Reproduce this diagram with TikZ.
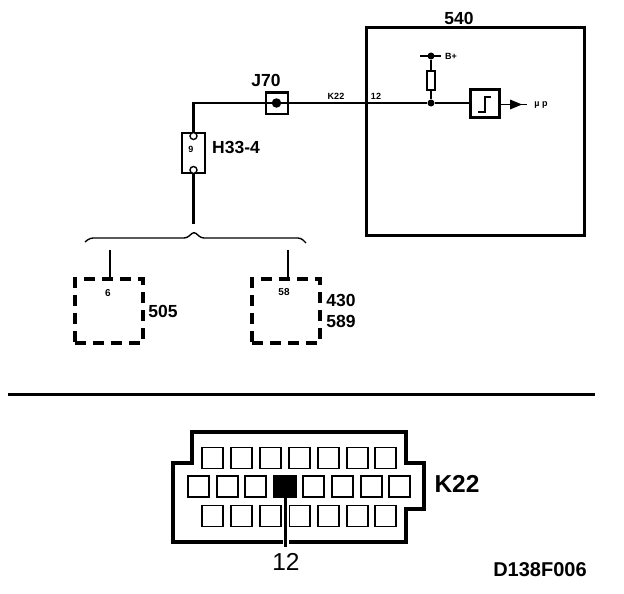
\documentclass[tikz,border=0pt]{standalone}
\usepackage{fontspec}
\setmainfont{Liberation Sans}
\usetikzlibrary{positioning}
\newlength{\basiscircuit}
\setlength{\basiscircuit}{1pt}
\tikzset{
    wire/.style={line width=2.6\basiscircuit},
    thinwire/.style={line width=2\basiscircuit},
    component/.style={draw,line width=2\basiscircuit,inner sep=0pt,outer sep=0pt},
    ecu/.style={draw,line width=3.2\basiscircuit,dash pattern=on 11\basiscircuit off 7\basiscircuit,inner sep=0pt,minimum width=68\basiscircuit,minimum height=64\basiscircuit},
    junction/.style={circle,fill,inner sep=0pt,minimum size=7\basiscircuit},
    pin/.style={circle,draw,fill=white,line width=1.4\basiscircuit,inner sep=0pt,minimum size=7\basiscircuit},
    cavity/.style={draw,line width=1.8\basiscircuit,inner sep=0pt,minimum width=21\basiscircuit,minimum height=21\basiscircuit},
    biglabel/.style={inner sep=0pt,font=\fontsize{17.5}{18}\selectfont\bfseries},
    smalllabel/.style={inner sep=0pt,font=\fontsize{9}{10}\selectfont\bfseries},
    hugelabel/.style={inner sep=0pt,font=\fontsize{24.5}{26}\selectfont},
}

\begin{document}
\begin{tikzpicture}
    \useasboundingbox (0,0) rectangle (624\basiscircuit,-594\basiscircuit);

    % control module
    \draw (475\basiscircuit,-131.5\basiscircuit) node[component,line width=3\basiscircuit,minimum width=218\basiscircuit,minimum height=207\basiscircuit] (module-540) {};
    \draw (459\basiscircuit,-18\basiscircuit) node[biglabel] (label-540) {540};

    \draw (276.5\basiscircuit,-103\basiscircuit) node[component,minimum width=22\basiscircuit,minimum height=21\basiscircuit] (J70) {};
    \draw (276.5\basiscircuit,-103\basiscircuit) node[junction,minimum size=9.5\basiscircuit] (J70-dot) {};
    \draw (266\basiscircuit,-80\basiscircuit) node[biglabel] (label-J70) {J70};

    \draw (193.5\basiscircuit,-153\basiscircuit) node[component,minimum width=23\basiscircuit,minimum height=40\basiscircuit] (H33-4) {};
    \draw (193.5\basiscircuit,-136\basiscircuit) node[pin] (H33-4-top) {};
    \draw (193.5\basiscircuit,-170\basiscircuit) node[pin] (H33-4-bottom) {};
    \draw (191\basiscircuit,-149\basiscircuit) node[smalllabel] (label-9) {9};
    \draw (236\basiscircuit,-147\basiscircuit) node[biglabel] (label-H33-4) {H33-4};

    \draw (431\basiscircuit,-103\basiscircuit) node[junction] (junction-low) {};
    \draw (431\basiscircuit,-56\basiscircuit) node[junction] (junction-high) {};
    \draw (431\basiscircuit,-80.5\basiscircuit) node[component,minimum width=8\basiscircuit,minimum height=19\basiscircuit] (resistor) {};
    \draw (485\basiscircuit,-103.5\basiscircuit) node[component,line width=3.4\basiscircuit,minimum width=29\basiscircuit,minimum height=28\basiscircuit] (trigger) {};

    \coordinate (port-12) at (366\basiscircuit,-103\basiscircuit);
    \coordinate (bplus-left) at (420\basiscircuit,-56\basiscircuit);
    \coordinate (bplus-right) at (441\basiscircuit,-56\basiscircuit);
    \coordinate (output-start) at (500\basiscircuit,-104.5\basiscircuit);
    \coordinate (output-end) at (527\basiscircuit,-104.5\basiscircuit);
    \coordinate (wire-corner) at (193.5\basiscircuit,-103\basiscircuit);
    \coordinate (wire-end) at (193.5\basiscircuit,-224\basiscircuit);

    \draw[wire] (J70-dot) -- (wire-corner) -- (H33-4-top);
    \draw[wire] (H33-4-bottom) -- (wire-end);
    \draw[wire] (J70-dot) -- (port-12);
    \draw[thinwire] (port-12) -- (junction-low) -- (junction-low -| trigger.west);
    \draw[wire] (junction-high) -- (resistor) -- (junction-low);
    \draw[thinwire] (bplus-left) -- (bplus-right);
    \draw[line width=1\basiscircuit] (output-start) -- (output-end);
    \fill (510\basiscircuit,-99.5\basiscircuit) -- (522\basiscircuit,-104.5\basiscircuit) -- (510\basiscircuit,-109.5\basiscircuit) -- cycle;
    \draw[line width=1.2\basiscircuit] (478\basiscircuit,-112\basiscircuit) -- (485\basiscircuit,-112\basiscircuit) -- (485\basiscircuit,-97\basiscircuit) -- (491\basiscircuit,-97\basiscircuit);

    \draw (336\basiscircuit,-96\basiscircuit) node[smalllabel] (label-K22-small) {K22};
    \draw (376\basiscircuit,-96\basiscircuit) node[smalllabel] (label-12-small) {12};
    \draw (451\basiscircuit,-56\basiscircuit) node[smalllabel] (label-B) {B+};
    \draw (541\basiscircuit,-105\basiscircuit) node[smalllabel] (label-mu) {µ p};

    % brace and the two modules below it
    \draw[line width=1.4\basiscircuit,rounded corners=3\basiscircuit] (85\basiscircuit,-242\basiscircuit) -- (90\basiscircuit,-238\basiscircuit) -- (187\basiscircuit,-238\basiscircuit) -- (194\basiscircuit,-231.5\basiscircuit) -- (201\basiscircuit,-238\basiscircuit) -- (301\basiscircuit,-238\basiscircuit) -- (306\basiscircuit,-243\basiscircuit);

    \draw (109\basiscircuit,-311\basiscircuit) node[ecu] (module-505) {};
    \draw (286\basiscircuit,-311\basiscircuit) node[ecu] (module-430) {};
    \coordinate (stub-505) at (110\basiscircuit,-250\basiscircuit);
    \coordinate (stub-430) at (288\basiscircuit,-250\basiscircuit);
    \draw[line width=1.2\basiscircuit] (stub-505) -- (stub-505 |- module-505.north);
    \draw[line width=1.2\basiscircuit] (stub-430) -- (stub-430 |- module-430.north);
    \draw (108\basiscircuit,-293\basiscircuit) node[smalllabel,font=\fontsize{10}{11}\selectfont\bfseries] (label-6) {6};
    \draw (284\basiscircuit,-292\basiscircuit) node[smalllabel,font=\fontsize{10}{11}\selectfont\bfseries] (label-58) {58};
    \draw (163\basiscircuit,-311\basiscircuit) node[biglabel] (label-505) {505};
    \draw (341\basiscircuit,-300\basiscircuit) node[biglabel] (label-430) {430};
    \draw (341\basiscircuit,-321\basiscircuit) node[biglabel] (label-589) {589};

    \coordinate (rule-left) at (8\basiscircuit,-394\basiscircuit);
    \coordinate (rule-right) at (595\basiscircuit,-394\basiscircuit);
    \draw[line width=3\basiscircuit] (rule-left) -- (rule-right);

    % connector K22
    \draw[line width=4\basiscircuit] (192\basiscircuit,-432\basiscircuit) -- (406\basiscircuit,-432\basiscircuit) -- (406\basiscircuit,-463\basiscircuit) -- (424\basiscircuit,-463\basiscircuit) -- (424\basiscircuit,-509\basiscircuit) -- (406\basiscircuit,-509\basiscircuit) -- (406\basiscircuit,-542\basiscircuit) -- (173\basiscircuit,-542\basiscircuit) -- (173\basiscircuit,-463\basiscircuit) -- (192\basiscircuit,-463\basiscircuit) -- cycle;
    \foreach \x [count=\n] in {202,231,260,289,318,347,375} {
        \draw (\x\basiscircuit+10.5\basiscircuit,-458\basiscircuit) node[cavity] (top-\n) {};
        \draw (\x\basiscircuit+10.5\basiscircuit,-516\basiscircuit) node[cavity] (bottom-\n) {};
    }
    \foreach \x [count=\n] in {188,217,245,274,303,332,361,389} {
        \draw (\x\basiscircuit+10.5\basiscircuit,-486.5\basiscircuit) node[cavity] (middle-\n) {};
    }
    \draw (285.5\basiscircuit,-486.5\basiscircuit) node[cavity,fill,minimum width=22\basiscircuit] (cavity-12) {};
    \coordinate (pointer-end) at (285.5\basiscircuit,-547\basiscircuit);
    \draw[white,line width=6\basiscircuit] (285.5\basiscircuit,-505\basiscircuit) -- (285.5\basiscircuit,-544\basiscircuit);
    \draw[line width=2.6\basiscircuit] (cavity-12) -- (pointer-end);

    \draw (457\basiscircuit,-484\basiscircuit) node[hugelabel,font=\fontsize{24.5}{26}\selectfont\bfseries] (label-K22) {K22};
    \draw (286\basiscircuit,-562\basiscircuit) node[hugelabel] (label-12) {12};
    \draw (540\basiscircuit,-570\basiscircuit) node[inner sep=0pt,font=\fontsize{20}{22}\selectfont\bfseries] (label-code) {D138F006};
\end{tikzpicture}
\end{document}
